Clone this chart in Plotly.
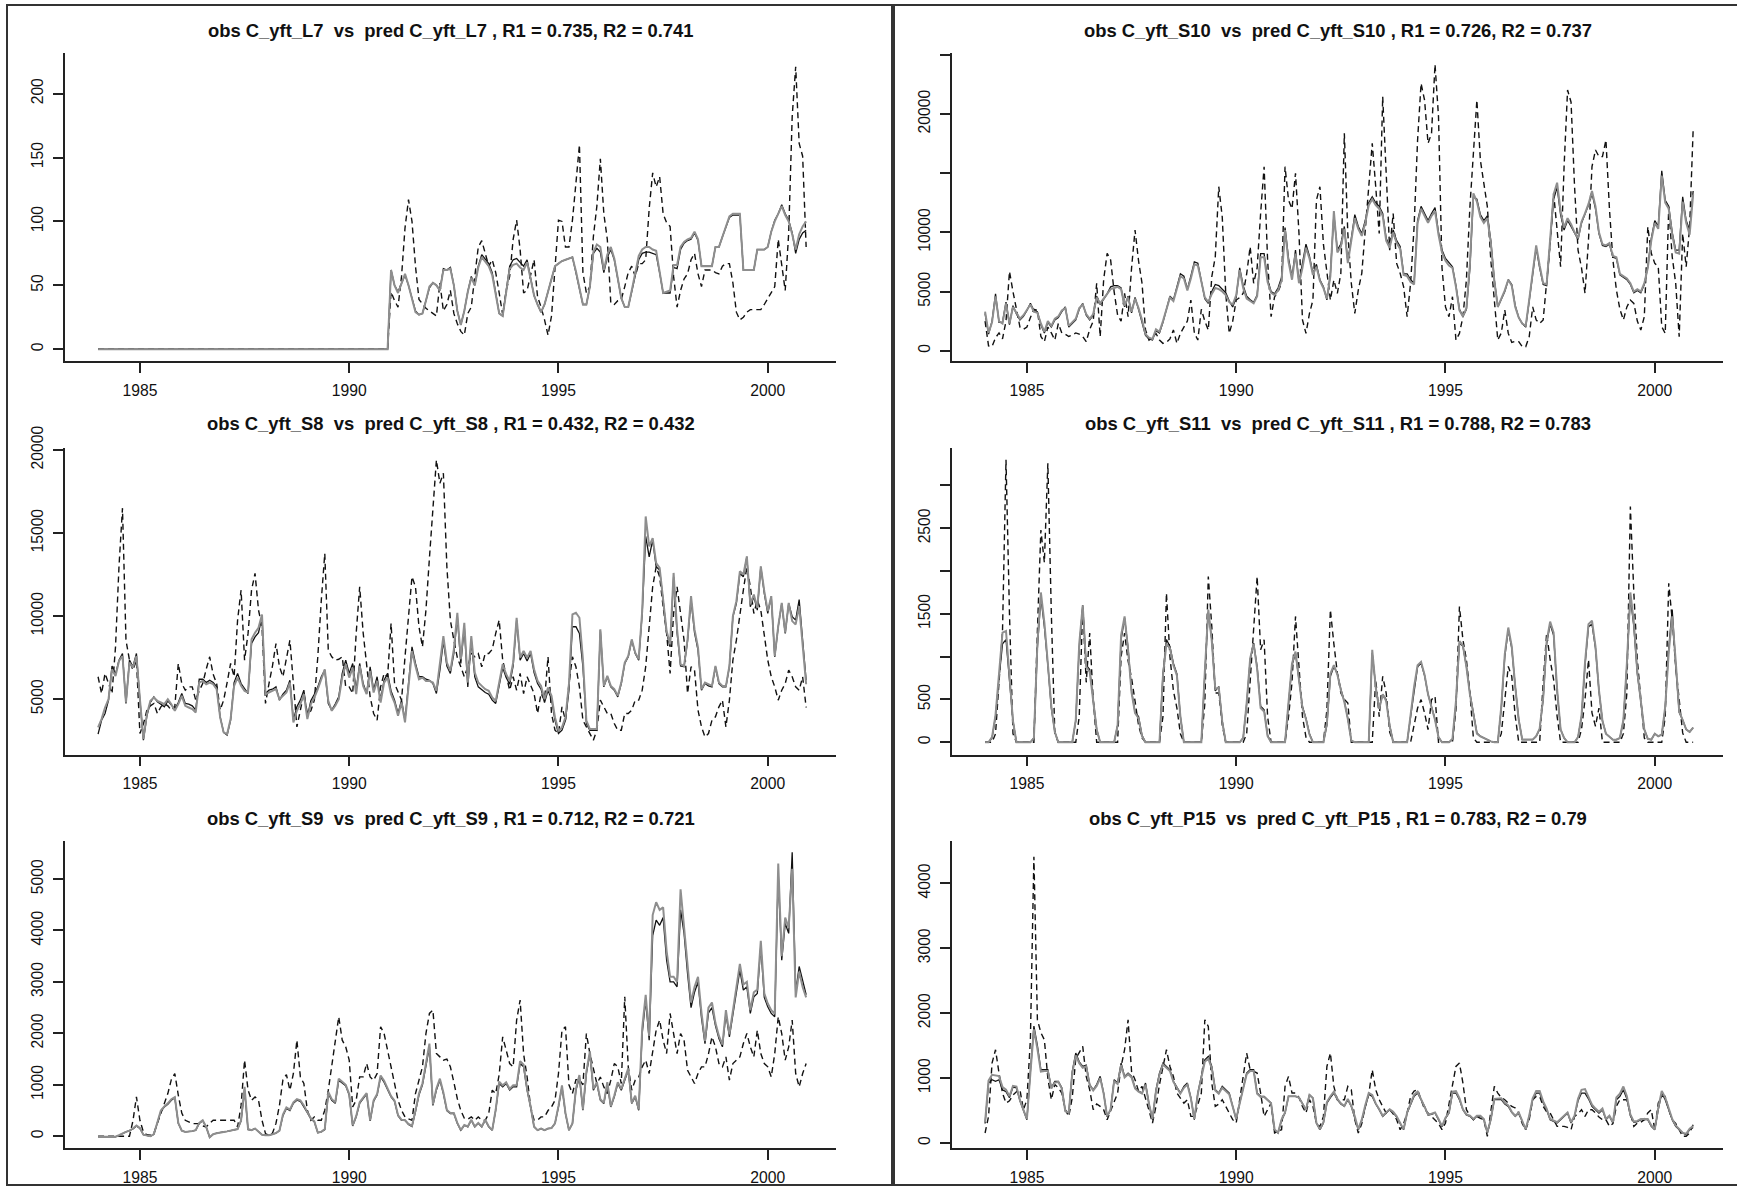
import plotly.graph_objects as go

# ---------------- time axis (monthly, 1984-2000) ----------------
YEARS = list(range(1984, 2001))
MONTHS = list(range(12))

Z = [0] * 12

# ---------------- C_yft_L7 ----------------
L7_OBS = [Z, Z, Z, Z, Z, Z, Z,
    [45, 38, 33, 57, 95, 117, 100, 65, 39, 35, 32, 30],
    [28, 26, 52, 30, 35, 46, 28, 20, 14, 11, 28, 33],
    [57, 80, 85, 75, 65, 70, 60, 44, 27, 46, 57, 86],
    [101, 78, 44, 46, 57, 70, 41, 33, 23, 11, 26, 65],
    [101, 100, 80, 80, 101, 130, 160, 60, 44, 49, 88, 112],
    [149, 106, 86, 36, 35, 38, 39, 49, 60, 65, 57, 67],
    [67, 70, 110, 138, 127, 135, 106, 99, 96, 57, 33, 46],
    [55, 59, 70, 75, 59, 49, 62, 62, 62, 60, 59, 65],
    [67, 67, 52, 29, 23, 25, 29, 31, 31, 31, 31, 35],
    [40, 44, 49, 86, 65, 46, 91, 182, 221, 161, 151, 80]]
L7_PRED1 = [Z, Z, Z, Z, Z, Z, Z,
    [62, 50, 45, 52, 58, 50, 40, 30, 27, 28, 38, 48],
    [52, 50, 46, 63, 62, 64, 50, 30, 19, 30, 45, 57],
    [50, 65, 74, 70, 67, 60, 45, 28, 26, 45, 65, 70],
    [71, 68, 65, 70, 55, 42, 35, 29, 35, 45, 57, 65],
    [67, 69, 70, 71, 72, 60, 48, 35, 35, 49, 75, 79],
    [76, 60, 72, 78, 70, 55, 40, 33, 33, 45, 58, 70],
    [75, 76, 76, 75, 74, 60, 44, 44, 44, 64, 63, 78],
    [83, 85, 86, 91, 85, 65, 65, 65, 65, 80, 80, 88],
    [96, 103, 105, 105, 105, 62, 62, 62, 62, 78, 78, 78],
    [80, 92, 101, 106, 113, 106, 101, 91, 75, 86, 91, 93]]
L7_PRED2 = [Z, Z, Z, Z, Z, Z, Z,
    [62, 50, 44, 52, 59, 50, 40, 29, 27, 28, 38, 49],
    [52, 50, 46, 62, 62, 63, 50, 30, 19, 30, 45, 56],
    [50, 64, 72, 68, 65, 58, 44, 28, 26, 45, 63, 66],
    [67, 64, 62, 68, 54, 42, 35, 29, 35, 45, 57, 65],
    [67, 69, 70, 71, 72, 61, 48, 35, 35, 49, 76, 82],
    [80, 62, 74, 80, 71, 55, 40, 33, 33, 46, 60, 73],
    [78, 80, 80, 78, 77, 62, 44, 45, 46, 66, 66, 80],
    [84, 86, 87, 92, 86, 65, 65, 65, 65, 80, 80, 88],
    [97, 104, 106, 106, 106, 62, 62, 62, 62, 78, 78, 78],
    [80, 92, 100, 106, 112, 105, 100, 90, 78, 90, 96, 100]]

# ---------------- C_yft_S10 ----------------
S10_OBS = [
    [2500, 400, 350, 1100, 1500, 1000, 2500, 6700, 5000, 3500, 2000, 1800],
    [2000, 2800, 3500, 3400, 1200, 760, 2000, 1500, 900, 2300, 1500, 1400],
    [1200, 1320, 1500, 1400, 1200, 760, 1800, 2500, 5700, 1180, 6000, 8230],
    [7660, 5000, 3000, 2500, 4850, 2870, 7000, 10200, 7600, 5700, 1750, 900],
    [1100, 1460, 900, 620, 700, 1000, 1750, 620, 1460, 2000, 2500, 4280],
    [1500, 900, 3500, 2500, 1750, 6250, 7940, 13860, 11300, 4850, 1460, 2500],
    [4280, 4500, 4850, 6500, 8790, 5700, 7000, 11600, 15550, 7660, 2870, 4560],
    [5000, 5700, 15550, 12730, 12000, 15000, 9900, 2600, 1460, 3150, 4280, 12730],
    [13860, 9000, 6540, 4280, 5970, 4850, 6540, 18370, 9900, 5700, 3150, 5130],
    [6540, 10000, 14000, 17520, 13860, 9900, 21470, 15550, 8500, 11600, 7380, 6540],
    [5400, 2870, 5700, 10480, 17800, 22590, 21180, 17520, 18370, 24200, 19780, 7000],
    [3700, 2870, 4560, 900, 1460, 2870, 6000, 12170, 17000, 21180, 16110, 14000],
    [12170, 7660, 4280, 900, 1500, 3440, 1460, 700, 800, 760, 340, 340],
    [1180, 3700, 2600, 2300, 2600, 5700, 9000, 13300, 10200, 7100, 15550, 22030],
    [21000, 13860, 8500, 7000, 4850, 9350, 15550, 16960, 16400, 16400, 17800, 12000],
    [7660, 5130, 3500, 2600, 3700, 4280, 4000, 2500, 1750, 2870, 10480, 8230],
    [7380, 7100, 2030, 1460, 12170, 7940, 5700, 1180, 9900, 7100, 10480, 18650]]
S10_PRED1 = [
    [3150, 1400, 2500, 4800, 2400, 2400, 4100, 2200, 3800, 3100, 2600, 2900],
    [3400, 4000, 3400, 3300, 2200, 1500, 2400, 2000, 2600, 2800, 3300, 3700],
    [2000, 2300, 2600, 3500, 4000, 3000, 2600, 3000, 4600, 3900, 4300, 4800],
    [5400, 5500, 5500, 5300, 3700, 4600, 3200, 4500, 3500, 2500, 1300, 1000],
    [900, 1700, 1500, 2400, 3500, 4600, 4300, 5300, 6500, 6300, 5200, 6300],
    [7500, 7400, 6000, 4400, 4000, 5000, 5600, 5500, 5200, 4900, 4200, 3700],
    [4500, 7000, 5500, 4600, 4300, 4100, 4700, 8200, 8200, 6000, 5000, 4800],
    [5300, 6200, 10400, 7800, 6200, 8500, 5800, 7300, 9000, 8000, 6500, 7300],
    [6000, 5400, 4300, 6500, 11500, 8500, 9000, 10500, 7500, 9500, 11500, 10500],
    [9900, 11000, 12500, 13000, 12500, 12200, 11600, 9500, 8800, 10200, 9300, 8800],
    [6500, 6500, 6000, 5700, 11000, 12200, 11600, 11000, 11600, 12100, 10000, 8500],
    [7800, 7400, 7100, 5500, 3500, 2900, 3500, 7000, 13000, 12800, 11500, 11000],
    [11400, 9300, 6000, 3700, 4300, 5000, 6000, 5600, 3800, 2800, 2300, 2000],
    [4200, 6600, 8700, 7000, 5600, 5500, 9000, 12800, 13800, 11500, 10200, 11000],
    [10500, 9900, 9400, 10800, 11500, 12300, 13300, 12000, 9900, 8900, 8800, 9000],
    [7900, 7800, 6400, 6200, 6000, 5600, 4900, 5100, 4900, 5600, 7100, 9500],
    [11000, 10500, 15200, 12700, 12200, 10000, 8500, 8500, 13000, 11000, 10200, 13500]]
S10_PRED2 = [
    [3300, 1500, 2400, 4600, 2500, 2300, 4000, 2300, 3700, 3200, 2700, 3000],
    [3500, 3900, 3300, 3200, 2300, 1600, 2500, 2100, 2700, 2900, 3400, 3600],
    [2100, 2400, 2700, 3600, 3900, 3100, 2700, 3100, 4500, 4000, 4400, 4700],
    [5200, 5300, 5400, 5200, 3800, 4500, 3300, 4400, 3600, 2600, 1400, 1100],
    [1000, 1800, 1600, 2500, 3600, 4500, 4200, 5200, 6300, 6100, 5100, 6100],
    [7300, 7200, 5900, 4500, 4100, 4800, 5300, 5200, 5000, 4700, 4100, 3900],
    [4700, 6800, 5300, 4400, 4200, 4000, 4600, 7900, 7900, 5800, 4900, 4700],
    [5100, 5900, 10200, 7500, 6000, 8200, 5700, 7000, 8700, 7800, 6400, 7100],
    [5900, 5300, 4400, 6300, 11800, 8300, 8800, 10300, 7400, 9300, 11200, 10300],
    [9700, 10800, 12300, 12800, 12300, 12000, 11400, 9300, 8700, 10000, 9100, 8600],
    [6400, 6300, 5800, 5600, 10800, 12000, 11400, 10800, 11400, 11800, 9800, 8300],
    [7600, 7200, 7000, 5400, 3400, 2900, 3600, 7300, 13300, 12600, 11300, 10800],
    [11200, 9100, 5900, 3700, 4400, 5100, 6000, 5500, 3700, 2800, 2300, 2100],
    [4300, 6800, 8900, 7200, 5700, 5600, 9300, 13200, 14200, 11800, 10400, 11200],
    [10700, 10000, 9500, 10900, 11600, 12400, 13500, 12200, 10000, 9000, 8900, 9100],
    [8000, 7900, 6500, 6300, 6100, 5700, 5000, 5200, 5000, 5700, 7000, 9300],
    [10800, 10300, 14800, 12500, 12000, 9800, 8300, 8200, 12600, 10800, 9800, 13200]]

# ---------------- C_yft_S8 ----------------
S8_OBS = [
    [6350, 5340, 6550, 5900, 5340, 8150, 13000, 16500, 8550, 7350, 6750, 7350],
    [2930, 3500, 4340, 4600, 4740, 4140, 4540, 4740, 4600, 4340, 4540, 7150],
    [5940, 5540, 5740, 5740, 4940, 5500, 5940, 6800, 7550, 6500, 5940, 4340],
    [4940, 6000, 7150, 6350, 9760, 11570, 7350, 8960, 11570, 12570, 10360, 9360],
    [4740, 5940, 7000, 8350, 6950, 6350, 7350, 8550, 5940, 3330, 4340, 5340],
    [4140, 4300, 4940, 7550, 10960, 13770, 7950, 7550, 7350, 7400, 7550, 5740],
    [5740, 5340, 8960, 11770, 9000, 6950, 5140, 4140, 3730, 5740, 6550, 6350],
    [9560, 5940, 5400, 4940, 7550, 10000, 12370, 11770, 9360, 8150, 10360, 13500],
    [16390, 19400, 18000, 18600, 12970, 9760, 8550, 7500, 6950, 6350, 6950, 7750],
    [7550, 7750, 6950, 7750, 7750, 8000, 8960, 9760, 7350, 6350, 5540, 6350],
    [5540, 6550, 5340, 6350, 5800, 5340, 4140, 5340, 4940, 7550, 4140, 3130],
    [2930, 4540, 3730, 5940, 7550, 6950, 5740, 3730, 3330, 2930, 2530, 3130],
    [4940, 4540, 4140, 4140, 3530, 3130, 3130, 4140, 4140, 4340, 4940, 4940],
    [5540, 6950, 9360, 11770, 12970, 12370, 10560, 8960, 6550, 10160, 11770, 10160],
    [8550, 5340, 6950, 6750, 4340, 3330, 2730, 2930, 3730, 3940, 4540, 4940],
    [3330, 4940, 7350, 8550, 10160, 11570, 12970, 11770, 10160, 10960, 10360, 8960],
    [7350, 6350, 5740, 4940, 5540, 5940, 6750, 6350, 5740, 5540, 6350, 4500]]
S8_PRED1 = [
    [2900, 3730, 4140, 4940, 7000, 6500, 7350, 7750, 4740, 7350, 6950, 7750],
    [4940, 2530, 4000, 4800, 5140, 4840, 4700, 4540, 4900, 4640, 4400, 4800],
    [5340, 4740, 4700, 4600, 4340, 6200, 6200, 6000, 6140, 6000, 5740, 3940],
    [3000, 2830, 3730, 6000, 6550, 5940, 5600, 5340, 8350, 8750, 9000, 9960],
    [5340, 5540, 5600, 5740, 4940, 5300, 5540, 6140, 3730, 4540, 4940, 5540],
    [3940, 4900, 5300, 5740, 6350, 6750, 4740, 4340, 4700, 5140, 6550, 7350],
    [6550, 7150, 5540, 7150, 5940, 5340, 6950, 5540, 6350, 4940, 6140, 6550],
    [5500, 4940, 4140, 4940, 3730, 6140, 8150, 7150, 6350, 6350, 6200, 6140],
    [5940, 5340, 6750, 8500, 7000, 6550, 7750, 9960, 7150, 9360, 5740, 8550],
    [6350, 5740, 5540, 5400, 5300, 4940, 4740, 5800, 6900, 6300, 5900, 7000],
    [9760, 7350, 7750, 7300, 7750, 6600, 5940, 5600, 4800, 5540, 5000, 3730],
    [2930, 3130, 3730, 5540, 9360, 9360, 8960, 6950, 3530, 3130, 3130, 3130],
    [9160, 5740, 6350, 5740, 5540, 5140, 5940, 7150, 7550, 8550, 7750, 7350],
    [10160, 14800, 13570, 14580, 12970, 12770, 10960, 8960, 8150, 12370, 9000, 7000],
    [6950, 8500, 11000, 9000, 7950, 5540, 5940, 5800, 5740, 6950, 5940, 5740],
    [5740, 6950, 9960, 10760, 12570, 12370, 13570, 10560, 11170, 10360, 12970, 11370],
    [10160, 11170, 7550, 9360, 10760, 8960, 10760, 9960, 9760, 11000, 8550, 6140]]
S8_PRED2 = [
    [3300, 3800, 4500, 5000, 6800, 6400, 7300, 7600, 4800, 7200, 6900, 7600],
    [5000, 2600, 4100, 4900, 5100, 4900, 4800, 4700, 5000, 4700, 4300, 4700],
    [5200, 4600, 4500, 4400, 4200, 6000, 6100, 5900, 6000, 5900, 5600, 3900],
    [3000, 2900, 3800, 5800, 6300, 5800, 5500, 5400, 8600, 9000, 9300, 10100],
    [5300, 5400, 5500, 5600, 5000, 5200, 5400, 6000, 3600, 4300, 4700, 5300],
    [3800, 4700, 5100, 5600, 6200, 6800, 4900, 4300, 4600, 5000, 6300, 7100],
    [6300, 6900, 5300, 7000, 5800, 5300, 6700, 5400, 6100, 4800, 6000, 6300],
    [5300, 4800, 4000, 4800, 3600, 5900, 7900, 7000, 6200, 6300, 6100, 6100],
    [6000, 5500, 7000, 8800, 7200, 6700, 8000, 10200, 7400, 9600, 6000, 8800],
    [6600, 6000, 5800, 5600, 5500, 5100, 4900, 6000, 7100, 6500, 6100, 7200],
    [9900, 7500, 7900, 7500, 7900, 6800, 6100, 5800, 5000, 5700, 5200, 3900],
    [3100, 3300, 3900, 5900, 10100, 10200, 9900, 7400, 3700, 3200, 3200, 3200],
    [9200, 5800, 6400, 5800, 5600, 5200, 6000, 7200, 7600, 8600, 7800, 7400],
    [10300, 16000, 14200, 14700, 13200, 12900, 11000, 9100, 8300, 12600, 9200, 7100],
    [7000, 8600, 11200, 9200, 8100, 5600, 6000, 5900, 5800, 7000, 6000, 5800],
    [5800, 7000, 10000, 10900, 12700, 12500, 13600, 10700, 11300, 10500, 13000, 11500],
    [10300, 11200, 7600, 9400, 10800, 9000, 10800, 9700, 9500, 10600, 8300, 5900]]

# ---------------- C_yft_S11 ----------------
S11_OBS = [
    [0, 0, 0, 100, 700, 1300, 3300, 1500, 100, 0, 0, 0],
    [0, 0, 0, 1300, 2480, 2100, 3258, 1500, 100, 0, 0, 0],
    [0, 0, 0, 300, 1586, 700, 1275, 500, 0, 0, 0, 0],
    [0, 0, 0, 1000, 1275, 950, 750, 480, 200, 50, 0, 0],
    [0, 0, 0, 300, 1742, 1000, 600, 400, 100, 0, 0, 0],
    [0, 0, 0, 450, 1936, 1353, 575, 575, 200, 0, 0, 0],
    [0, 0, 0, 100, 700, 1275, 1936, 1081, 1198, 300, 0, 0],
    [0, 0, 0, 300, 700, 1470, 886, 300, 60, 0, 0, 0],
    [0, 0, 381, 1547, 1150, 808, 575, 500, 459, 0, 0, 0],
    [0, 0, 0, 0, 731, 300, 770, 575, 120, 0, 0, 0],
    [0, 0, 0, 200, 400, 498, 342, 148, 498, 537, 0, 0],
    [0, 0, 0, 381, 1586, 1198, 964, 575, 50, 0, 0, 0],
    [0, 0, 0, 0, 100, 498, 886, 770, 303, 0, 0, 0],
    [0, 0, 0, 0, 700, 1275, 964, 731, 303, 0, 0, 0],
    [0, 0, 0, 150, 500, 964, 342, 187, 400, 0, 0, 0],
    [0, 0, 0, 100, 575, 2753, 1742, 964, 498, 50, 0, 0],
    [0, 0, 0, 300, 1858, 1431, 886, 498, 109, 0, 0, 0]]
S11_PRED1 = [
    [0, 0, 50, 300, 750, 1150, 1200, 700, 250, 0, 0, 0],
    [0, 0, 50, 1100, 1700, 1350, 900, 400, 120, 0, 0, 0],
    [0, 0, 250, 1100, 1600, 900, 850, 500, 150, 0, 0, 0],
    [0, 0, 200, 1200, 1450, 1100, 600, 350, 300, 80, 0, 0],
    [0, 0, 0, 800, 1200, 1120, 920, 800, 300, 0, 0, 0],
    [0, 0, 0, 800, 1520, 1198, 600, 650, 250, 0, 0, 0],
    [0, 0, 50, 450, 964, 1159, 880, 420, 380, 80, 0, 0],
    [0, 0, 0, 450, 900, 1042, 700, 420, 280, 100, 0, 0],
    [0, 0, 200, 770, 886, 800, 620, 480, 280, 20, 0, 0],
    [0, 0, 0, 1042, 650, 400, 560, 500, 200, 0, 0, 0],
    [0, 0, 300, 620, 880, 925, 780, 560, 420, 270, 60, 0],
    [0, 0, 30, 450, 1159, 1120, 886, 575, 342, 109, 70, 50],
    [31, 10, 0, 0, 400, 1000, 1314, 1100, 650, 264, 31, 31],
    [31, 31, 70, 150, 500, 1150, 1380, 1250, 600, 150, 50, 0],
    [0, 0, 60, 300, 900, 1350, 1380, 1100, 600, 250, 100, 60],
    [30, 30, 50, 250, 900, 1700, 1350, 800, 450, 150, 40, 30],
    [100, 70, 90, 400, 1100, 1550, 900, 350, 260, 150, 120, 170]]
S11_PRED2 = [
    [0, 0, 60, 320, 800, 1280, 1300, 750, 250, 0, 0, 0],
    [0, 0, 50, 1150, 1750, 1400, 920, 420, 120, 0, 0, 0],
    [0, 0, 260, 1150, 1600, 880, 820, 480, 150, 0, 0, 0],
    [0, 0, 200, 1250, 1470, 1080, 580, 340, 280, 70, 0, 0],
    [0, 0, 0, 780, 1150, 1100, 900, 780, 300, 0, 0, 0],
    [0, 0, 0, 820, 1550, 1180, 620, 640, 240, 0, 0, 0],
    [0, 0, 50, 460, 980, 1150, 860, 400, 360, 70, 0, 0],
    [0, 0, 0, 470, 920, 1060, 700, 400, 270, 90, 0, 0],
    [0, 0, 220, 800, 900, 790, 610, 470, 270, 20, 0, 0],
    [0, 0, 0, 1080, 640, 390, 560, 480, 190, 0, 0, 0],
    [0, 0, 320, 650, 900, 940, 790, 560, 410, 260, 60, 0],
    [0, 0, 40, 480, 1180, 1130, 880, 560, 330, 100, 70, 50],
    [31, 10, 0, 0, 420, 1030, 1340, 1120, 650, 260, 31, 31],
    [31, 31, 70, 160, 520, 1180, 1410, 1280, 620, 150, 50, 0],
    [0, 0, 60, 310, 930, 1380, 1420, 1120, 610, 250, 100, 60],
    [30, 30, 50, 260, 920, 1750, 1400, 820, 460, 150, 40, 30],
    [100, 70, 90, 420, 1050, 1470, 950, 360, 260, 150, 120, 170]]

# ---------------- C_yft_S9 ----------------
S9_OBS = [
    [0, 0, 0, 0, 0, 0, 0, 0, 0, 0, 300, 765],
    [311, 80, 30, 20, 60, 250, 450, 600, 830, 1100, 1220, 800],
    [450, 311, 280, 246, 246, 246, 200, 182, 250, 311, 311, 311],
    [311, 311, 311, 311, 182, 600, 1479, 900, 700, 765, 700, 311],
    [52, 20, 60, 250, 600, 1100, 1200, 895, 1220, 1868, 1154, 1025],
    [506, 311, 376, 311, 311, 506, 895, 1349, 1900, 2322, 1868, 1738],
    [1479, 570, 700, 1154, 1154, 1414, 1154, 1090, 1220, 2127, 1997, 1673],
    [1414, 1090, 700, 506, 376, 340, 311, 830, 1090, 1349, 1997, 2387],
    [2451, 1608, 1543, 1479, 1500, 1350, 1050, 730, 500, 350, 330, 376],
    [311, 376, 311, 311, 440, 895, 830, 1200, 1933, 1673, 1414, 1349],
    [2257, 2646, 1600, 1154, 570, 311, 311, 376, 376, 500, 570, 700],
    [1220, 2062, 2127, 1000, 830, 1100, 1100, 1000, 1997, 1608, 1284, 1025],
    [1150, 960, 830, 1090, 1414, 1349, 1025, 2711, 1349, 895, 1090, 1154],
    [1349, 1479, 1220, 1608, 2062, 2257, 1868, 1608, 2387, 1997, 1608, 1997],
    [1868, 1284, 1154, 1025, 1220, 1349, 1349, 1600, 1933, 1738, 1414, 1349],
    [1543, 1090, 1414, 1479, 1543, 1803, 1997, 1738, 1543, 2062, 1608, 1414],
    [1349, 1154, 1608, 2322, 1997, 1479, 1738, 2257, 1220, 960, 1220, 1414]]
S9_PRED1 = [
    [-10, -10, -10, -10, -10, -10, 20, 60, 85, 110, 140, 200],
    [150, 30, 10, 0, 40, 250, 480, 570, 620, 700, 750, 250],
    [110, 85, 90, 100, 117, 250, 300, 180, -20, 40, 60, 80],
    [85, 95, 110, 117, 140, 300, 900, 130, 120, 150, 85, 30],
    [20, 20, 40, 60, 110, 400, 540, 500, 640, 700, 680, 580],
    [460, 340, 280, 70, 85, 130, 830, 700, 640, 1090, 1030, 980],
    [800, 200, 380, 640, 730, 820, 300, 680, 800, 1154, 1050, 900],
    [765, 680, 400, 311, 311, 230, 190, 480, 800, 1000, 1350, 1738],
    [600, 900, 1090, 830, 500, 440, 440, 250, 117, 214, 182, 311],
    [182, 250, 182, 311, 182, 117, 506, 1025, 960, 1025, 895, 960],
    [960, 1414, 1349, 895, 570, 182, 117, 150, 117, 150, 160, 250],
    [570, 960, 440, 117, 246, 895, 1154, 506, 1220, 1608, 895, 1025],
    [700, 636, 1025, 570, 765, 1025, 895, 1090, 1284, 636, 765, 506],
    [2000, 2646, 1868, 3900, 4200, 4100, 4250, 3424, 3000, 3000, 2905, 4400],
    [3943, 3165, 2500, 2800, 3000, 2300, 1800, 2400, 2500, 2150, 1900, 1738],
    [2387, 1933, 2387, 2800, 3230, 2840, 2905, 2387, 2711, 2776, 3700, 2700],
    [2516, 2387, 2322, 5100, 3424, 4137, 3943, 5519, 2800, 3300, 3000, 2750]]
S9_PRED2 = [
    [-10, -10, -10, -10, -10, -10, 20, 60, 85, 110, 150, 210],
    [160, 30, 10, 0, 40, 260, 500, 580, 640, 720, 760, 260],
    [110, 85, 90, 100, 117, 260, 310, 180, -20, 40, 60, 80],
    [85, 95, 110, 117, 140, 310, 960, 140, 120, 150, 85, 30],
    [20, 20, 40, 60, 110, 420, 560, 520, 660, 720, 700, 600],
    [470, 350, 290, 70, 85, 140, 860, 720, 660, 1120, 1060, 1000],
    [820, 210, 390, 660, 750, 840, 310, 700, 820, 1180, 1080, 920],
    [780, 690, 410, 320, 311, 240, 200, 500, 830, 1030, 1380, 1800],
    [620, 930, 1120, 850, 510, 450, 450, 260, 120, 220, 190, 320],
    [190, 260, 190, 320, 190, 120, 520, 1060, 990, 1050, 920, 990],
    [990, 1460, 1390, 920, 580, 190, 120, 150, 117, 150, 160, 250],
    [590, 990, 450, 120, 250, 920, 1190, 520, 1260, 1650, 920, 1050],
    [720, 650, 1050, 580, 790, 1050, 920, 1120, 1320, 650, 790, 520],
    [2100, 2750, 1950, 4300, 4550, 4400, 4450, 3600, 3100, 3100, 3000, 4800],
    [4100, 3300, 2600, 2900, 3100, 2400, 1850, 2500, 2600, 2200, 1950, 1780],
    [2450, 1980, 2450, 2900, 3350, 2950, 3000, 2450, 2800, 2850, 3800, 2780],
    [2580, 2450, 2380, 5300, 3500, 4250, 4050, 5200, 2700, 3200, 2900, 2700]]

# ---------------- C_yft_P15 ----------------
P15_OBS = [
    [154, 410, 1231, 1436, 1077, 769, 615, 650, 740, 790, 820, 513],
    [667, 1600, 4410, 1900, 1700, 1590, 1000, 667, 900, 850, 769, 513],
    [410, 700, 1300, 1385, 1487, 1026, 820, 513, 600, 564, 513, 359],
    [500, 615, 769, 1179, 1436, 1897, 1100, 974, 800, 872, 700, 500],
    [308, 564, 900, 1200, 1436, 1179, 1026, 769, 700, 615, 667, 410],
    [410, 600, 769, 1897, 1795, 923, 564, 600, 667, 564, 462, 359],
    [308, 667, 974, 1385, 1128, 1100, 1077, 769, 410, 513, 615, 154],
    [180, 205, 872, 1026, 769, 769, 700, 564, 462, 667, 564, 300],
    [250, 410, 1179, 1385, 872, 667, 667, 667, 872, 820, 359, 154],
    [300, 564, 750, 1128, 820, 667, 560, 462, 513, 450, 359, 205],
    [300, 462, 718, 800, 820, 667, 520, 462, 410, 359, 300, 205],
    [308, 600, 923, 1179, 1231, 923, 513, 420, 359, 410, 380, 359],
    [103, 462, 872, 769, 700, 667, 615, 564, 540, 462, 300, 205],
    [359, 667, 718, 718, 564, 480, 462, 359, 256, 256, 256, 240],
    [205, 410, 450, 513, 410, 513, 513, 462, 400, 359, 359, 256],
    [300, 564, 667, 667, 667, 462, 256, 308, 320, 359, 462, 513],
    [205, 615, 718, 718, 513, 359, 300, 205, 103, 103, 154, 282]]
P15_PRED1 = [
    [300, 923, 974, 950, 974, 820, 790, 700, 860, 850, 650, 500],
    [359, 1100, 1800, 1500, 1128, 1128, 1128, 850, 950, 950, 850, 500],
    [462, 1100, 1385, 1250, 1179, 1200, 900, 820, 900, 1026, 769, 400],
    [513, 974, 923, 1231, 1026, 1077, 1026, 850, 800, 769, 923, 600],
    [359, 820, 1077, 1231, 1179, 1128, 950, 850, 769, 872, 923, 700],
    [359, 769, 1026, 1282, 1333, 1179, 820, 769, 872, 820, 769, 564],
    [359, 615, 872, 1077, 1128, 1128, 769, 718, 718, 667, 615, 200],
    [154, 350, 462, 718, 718, 718, 700, 615, 513, 744, 692, 308],
    [205, 308, 615, 700, 769, 667, 600, 564, 667, 564, 400, 205],
    [350, 564, 750, 718, 600, 513, 410, 462, 513, 470, 400, 300],
    [205, 462, 600, 720, 769, 667, 564, 430, 440, 462, 359, 250],
    [380, 462, 769, 769, 667, 513, 430, 410, 359, 410, 410, 359],
    [154, 359, 667, 667, 667, 600, 564, 470, 410, 462, 330, 205],
    [410, 667, 769, 769, 620, 513, 359, 330, 308, 359, 410, 462],
    [308, 410, 650, 769, 769, 680, 564, 513, 462, 513, 359, 410],
    [308, 667, 718, 820, 680, 420, 320, 330, 359, 359, 359, 256],
    [205, 513, 769, 667, 513, 359, 256, 205, 154, 128, 205, 240]]
P15_PRED2 = [
    [320, 960, 1050, 1040, 1030, 860, 820, 720, 880, 870, 660, 510],
    [370, 1080, 1750, 1450, 1100, 1110, 1110, 840, 930, 940, 840, 490],
    [470, 1080, 1350, 1230, 1160, 1180, 890, 810, 880, 1000, 760, 410],
    [520, 950, 910, 1200, 1010, 1060, 1010, 840, 790, 760, 900, 600],
    [370, 800, 1050, 1210, 1160, 1110, 940, 840, 760, 850, 900, 690],
    [370, 760, 1000, 1250, 1300, 1150, 810, 760, 850, 800, 750, 560],
    [370, 610, 860, 1060, 1110, 1110, 760, 710, 710, 660, 610, 210],
    [160, 360, 470, 720, 720, 720, 700, 610, 510, 740, 690, 310],
    [210, 320, 630, 720, 790, 680, 610, 570, 680, 570, 410, 210],
    [360, 580, 770, 740, 610, 520, 420, 470, 520, 480, 410, 310],
    [210, 470, 610, 740, 790, 680, 570, 440, 450, 470, 370, 260],
    [390, 470, 790, 800, 690, 520, 440, 420, 370, 420, 420, 370],
    [160, 370, 680, 690, 690, 620, 580, 480, 420, 470, 340, 210],
    [420, 690, 800, 800, 640, 530, 370, 340, 320, 370, 420, 470],
    [320, 420, 680, 820, 830, 720, 590, 530, 480, 530, 370, 420],
    [320, 700, 760, 870, 720, 440, 330, 340, 370, 370, 370, 270],
    [210, 540, 800, 700, 530, 370, 270, 210, 160, 140, 220, 260]]

TITLES = [
    "obs C_yft_L7  vs  pred C_yft_L7 , R1 = 0.735, R2 = 0.741",
    "obs C_yft_S10  vs  pred C_yft_S10 , R1 = 0.726, R2 = 0.737",
    "obs C_yft_S8  vs  pred C_yft_S8 , R1 = 0.432, R2 = 0.432",
    "obs C_yft_S11  vs  pred C_yft_S11 , R1 = 0.788, R2 = 0.783",
    "obs C_yft_S9  vs  pred C_yft_S9 , R1 = 0.712, R2 = 0.721",
    "obs C_yft_P15  vs  pred C_yft_P15 , R1 = 0.783, R2 = 0.79",
]
X_TICKS = [1985, 1990, 1995, 2000]
Y_TICKS = [
    ([0, 50, 100, 150, 200], ["0", "50", "100", "150", "200"]),
    ([0, 5000, 10000, 15000, 20000, 25000], ["0", "5000", "10000", "", "20000", ""]),
    ([5000, 10000, 15000, 20000], ["5000", "10000", "15000", "20000"]),
    ([0, 500, 1000, 1500, 2000, 2500, 3000], ["0", "500", "", "1500", "", "2500", ""]),
    ([0, 1000, 2000, 3000, 4000, 5000], ["0", "1000", "2000", "3000", "4000", "5000"]),
    ([0, 1000, 2000, 3000, 4000], ["0", "1000", "2000", "3000", "4000"]),
]

SERIES = [
    (L7_OBS, L7_PRED1, L7_PRED2),
    (S10_OBS, S10_PRED1, S10_PRED2),
    (S8_OBS, S8_PRED1, S8_PRED2),
    (S11_OBS, S11_PRED1, S11_PRED2),
    (S9_OBS, S9_PRED1, S9_PRED2),
    (P15_OBS, P15_PRED1, P15_PRED2),
]

# ---------------- layout geometry (pixels in a 1737 x 1186 page) ----------------
W, H = 1737, 1186
COL_X = [(65, 836), (952, 1723)]
ROW_Y = [(52.7, 361), (447.7, 754.5), (841, 1148)]
TITLE_Y = [30, 423.3, 818.3]
X_RANGE = [1983.21, 2001.63]
Y_RANGES = [[-9.2, 232], [-870, 25183], [1669, 20139], [-143, 3441], [-228, 5739], [-77, 4651]]

FONT = "Liberation Sans, Arial, Helvetica, sans-serif"
INK = "#111111"


def flatten(rows):
    return [v for row in rows for v in row]


T = [y + m / 12.0 for y in YEARS for m in MONTHS]

fig = go.Figure()
annotations = []
for i in range(6):
    r, c = divmod(i, 2)
    n = i + 1
    xa = "x" if n == 1 else f"x{n}"
    ya = "y" if n == 1 else f"y{n}"
    obs, p1, p2 = SERIES[i]
    fig.add_trace(go.Scatter(x=T, y=flatten(obs), mode="lines", xaxis=xa, yaxis=ya,
                             line=dict(color=INK, width=1.4, dash="6px,4px"), showlegend=False))
    fig.add_trace(go.Scatter(x=T, y=flatten(p1), mode="lines", xaxis=xa, yaxis=ya,
                             line=dict(color=INK, width=1.3), showlegend=False))
    fig.add_trace(go.Scatter(x=T, y=flatten(p2), mode="lines", xaxis=xa, yaxis=ya,
                             line=dict(color="#8e8e8e", width=2.0), showlegend=False))

    x0, x1 = COL_X[c]
    ytop, ybot = ROW_Y[r]
    tv, tt = Y_TICKS[i]
    axis_common = dict(showline=True, linecolor="#222222", linewidth=1.5,
                       ticks="outside", ticklen=10, tickwidth=1.5, tickcolor="#222222",
                       showgrid=False, zeroline=False, automargin=False,
                       tickfont=dict(family=FONT, size=15.7, color=INK))
    fig.update_layout(**{
        ("xaxis" if n == 1 else f"xaxis{n}"): dict(
            domain=[x0 / W, x1 / W], anchor=ya, range=X_RANGE,
            tickmode="array", tickvals=X_TICKS, ticktext=[str(v) for v in X_TICKS],
            ticklabelstandoff=4, **axis_common),
        ("yaxis" if n == 1 else f"yaxis{n}"): dict(
            domain=[1 - ybot / H, 1 - ytop / H], anchor=xa, range=Y_RANGES[i],
            tickmode="array", tickvals=tv, ticktext=tt, tickangle=-90,
            ticklabelstandoff=4, **axis_common),
    })
    annotations.append(dict(
        text="<b>" + TITLES[i].replace("  ", " \u00a0") + "</b>",
        x=(x0 + x1) / 2 / W, y=1 - TITLE_Y[r] / H, xref="paper", yref="paper",
        xanchor="center", yanchor="middle", showarrow=False,
        font=dict(family=FONT, size=18.4, color=INK)))

shapes = [
    dict(type="rect", xref="paper", yref="paper", x0=7 / W, x1=892 / W,
         y0=1 - 1185 / H, y1=1 - 5 / H, line=dict(color="#333333", width=2)),
    dict(type="rect", xref="paper", yref="paper", x0=894 / W, x1=1.02,
         y0=1 - 1185 / H, y1=1 - 5 / H, line=dict(color="#333333", width=2)),
]

fig.update_layout(width=W, height=H, margin=dict(l=0, r=0, t=0, b=0, autoexpand=False),
                  paper_bgcolor="white", plot_bgcolor="white",
                  annotations=annotations, shapes=shapes,
                  font=dict(family=FONT, color=INK))

fig.write_html("out.html",
               config={"displayModeBar": False},
               post_script="document.body.style.margin='0';document.body.style.padding='0';")
